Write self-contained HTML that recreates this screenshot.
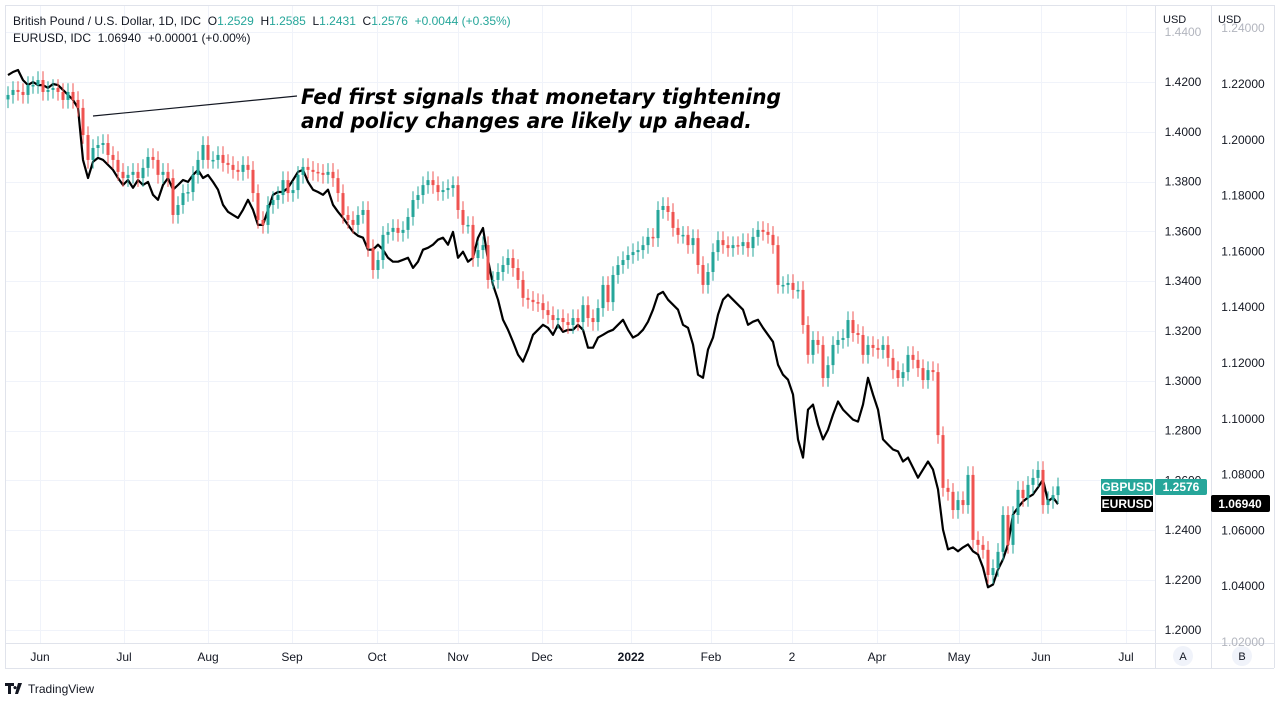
<!DOCTYPE html>
<html><head><meta charset="utf-8">
<style>
html,body{margin:0;padding:0;background:#fff;}
body{width:1277px;height:703px;overflow:hidden;font-family:"Liberation Sans","DejaVu Sans",sans-serif;}
svg text{font-family:"Liberation Sans","DejaVu Sans",sans-serif;}
.pre{white-space:pre;}
</style></head>
<body>
<svg id="chart" width="1277" height="703" xmlns="http://www.w3.org/2000/svg">
  <rect x="0" y="0" width="1277" height="703" fill="#ffffff"/>
  <g id="grid"></g>
  <g id="eurLine"></g>
  <g id="candles"></g>
  <g id="frame">
    <rect x="0" y="643" width="1277" height="60" fill="#fff"/>
    <rect x="1155" y="0" width="122" height="703" fill="#fff"/>
    <line x1="5" y1="5.5" x2="1274" y2="5.5" stroke="#e0e3eb"/>
    <line x1="5.5" y1="5" x2="5.5" y2="668" stroke="#e0e3eb"/>
    <line x1="1155.5" y1="5" x2="1155.5" y2="668" stroke="#e0e3eb"/>
    <line x1="1211.5" y1="5" x2="1211.5" y2="668" stroke="#e0e3eb"/>
    <line x1="1274.5" y1="5" x2="1274.5" y2="668" stroke="#e0e3eb"/>
    <line x1="5" y1="643.5" x2="1274" y2="643.5" stroke="#e0e3eb"/>
    <line x1="5" y1="668.5" x2="1274" y2="668.5" stroke="#e0e3eb"/>
  </g>
  <g id="axisA"></g>
  <g id="axisB"></g>
  <g id="xaxis"></g>
  <text x="1163" y="23" font-size="11" fill="#131722">USD</text>
  <text x="1218" y="23" font-size="11" fill="#131722">USD</text>
  <g>
    <text class="pre" x="13" y="25" font-size="12" fill="#131722">British Pound / U.S. Dollar, 1D, IDC  O<tspan fill="#26a69a">1.2529</tspan>  H<tspan fill="#26a69a">1.2585</tspan>  L<tspan fill="#26a69a">1.2431</tspan>  C<tspan fill="#26a69a">1.2576</tspan>  <tspan fill="#26a69a">+0.0044 (+0.35%)</tspan></text>
    <text class="pre" x="13" y="42" font-size="12" fill="#131722">EURUSD, IDC  1.06940  +0.00001 (+0.00%)</text>
  </g>
  <g>
    <line x1="93" y1="116" x2="297" y2="96" stroke="#131722" stroke-width="1.2"/>
    <text x="301" y="104" font-size="21" font-weight="bold" font-style="italic" fill="#000" textLength="480" lengthAdjust="spacingAndGlyphs" style='font-family:"DejaVu Sans",sans-serif'>Fed first signals that monetary tightening</text>
    <text x="301" y="128" font-size="21" font-weight="bold" font-style="italic" fill="#000" textLength="451" lengthAdjust="spacingAndGlyphs" style='font-family:"DejaVu Sans",sans-serif'>and policy changes are likely up ahead.</text>
  </g>
  <g>
    <rect x="1101" y="479" width="52" height="16" fill="#26a69a"/>
    <text x="1127" y="491" font-size="12" font-weight="bold" fill="#fff" text-anchor="middle">GBPUSD</text>
    <rect x="1155" y="479" width="52" height="16" rx="2" fill="#26a69a"/>
    <text x="1181" y="491" font-size="12" font-weight="bold" fill="#fff" text-anchor="middle">1.2576</text>
    <rect x="1101" y="496" width="52" height="16" fill="#000"/>
    <text x="1127" y="508" font-size="12" font-weight="bold" fill="#fff" text-anchor="middle">EURUSD</text>
    <rect x="1211" y="495" width="59" height="17" rx="2" fill="#000"/>
    <text x="1240" y="508" font-size="12" font-weight="bold" fill="#fff" text-anchor="middle">1.06940</text>
  </g>
  <g>
    <circle cx="1183" cy="656" r="10" fill="#f0f3fa"/>
    <text x="1183" y="660" font-size="11" fill="#131722" text-anchor="middle">A</text>
  </g>
  <g>
    <circle cx="1242" cy="656" r="10" fill="#f0f3fa"/>
    <text x="1242" y="660" font-size="11" fill="#131722" text-anchor="middle">B</text>
  </g>
  <g>
    <path d="M5 683h9v3h-3v8h-3v-8h-3z M15 686 a1.6 1.6 0 1 0 0.01 0z M18 683h4l-4 11h-3z" fill="#131722"/>
    <text x="28" y="693" font-size="12" fill="#131722">TradingView</text>
  </g>
</svg>
<script>
const gbpClose = [1.4148,1.4168,1.4160,1.4148,1.4188,1.4188,1.4208,1.4160,1.4168,1.4176,1.4160,1.4128,1.4160,1.4128,1.4096,1.3987,1.3887,1.3935,1.3947,1.3955,1.3907,1.3887,1.3839,1.3814,1.3827,1.3839,1.3814,1.3855,1.3899,1.3887,1.3827,1.3839,1.3814,1.3666,1.3706,1.3754,1.3758,1.3827,1.3887,1.3947,1.3887,1.3887,1.3907,1.3875,1.3867,1.3847,1.3839,1.3867,1.3847,1.3754,1.3646,1.3626,1.3706,1.3726,1.3746,1.3806,1.3754,1.3766,1.3827,1.3859,1.3847,1.3839,1.3835,1.3827,1.3839,1.3814,1.3754,1.3666,1.3646,1.3626,1.3666,1.3686,1.3533,1.3445,1.3485,1.3586,1.3598,1.3614,1.3594,1.3606,1.3658,1.3726,1.3746,1.3786,1.3806,1.3786,1.3758,1.3766,1.3774,1.3786,1.3686,1.3626,1.3626,1.3493,1.3525,1.3545,1.3405,1.3405,1.3437,1.3465,1.3493,1.3453,1.3405,1.3333,1.3325,1.3316,1.3312,1.3284,1.3264,1.3244,1.3252,1.3236,1.3224,1.3252,1.3236,1.3304,1.3252,1.3236,1.3292,1.3385,1.3316,1.3425,1.3465,1.3485,1.3505,1.3517,1.3525,1.3545,1.3578,1.3573,1.3686,1.3702,1.3678,1.3614,1.3586,1.3586,1.3545,1.3573,1.3465,1.3385,1.3437,1.3517,1.3565,1.3545,1.3533,1.3545,1.3541,1.3557,1.3533,1.3578,1.3606,1.3598,1.3586,1.3545,1.3385,1.3385,1.3393,1.3365,1.3365,1.3224,1.3104,1.3164,1.3144,1.3011,1.3063,1.3144,1.3164,1.3172,1.3244,1.3192,1.3184,1.3104,1.3144,1.3132,1.3124,1.3144,1.3092,1.3043,1.3011,1.3035,1.3104,1.3084,1.3051,1.3003,1.3043,1.3035,1.2782,1.2570,1.2554,1.2481,1.2521,1.2501,1.2622,1.2361,1.2341,1.2321,1.2220,1.2248,1.2313,1.2461,1.2341,1.2461,1.2562,1.2529,1.2582,1.2610,1.2642,1.2501,1.2521,1.2541,1.2576];
const eurClose = [1.2232,1.2243,1.2250,1.2214,1.2196,1.2207,1.2196,1.2196,1.2186,1.2200,1.2196,1.2179,1.2161,1.2143,1.2114,1.1928,1.1863,1.1921,1.1935,1.1928,1.1910,1.1892,1.1863,1.1838,1.1856,1.1828,1.1856,1.1838,1.1849,1.1803,1.1785,1.1838,1.1863,1.1821,1.1838,1.1856,1.1849,1.1874,1.1892,1.1863,1.1874,1.1849,1.1821,1.1767,1.1742,1.1731,1.1720,1.1749,1.1785,1.1749,1.1695,1.1695,1.1749,1.1803,1.1813,1.1813,1.1828,1.1856,1.1885,1.1892,1.1849,1.1821,1.1813,1.1803,1.1821,1.1767,1.1742,1.1720,1.1695,1.1670,1.1656,1.1649,1.1606,1.1606,1.1624,1.1606,1.1577,1.1563,1.1563,1.1570,1.1577,1.1541,1.1563,1.1606,1.1613,1.1624,1.1642,1.1649,1.1624,1.1670,1.1577,1.1599,1.1563,1.1577,1.1649,1.1684,1.1570,1.1480,1.1427,1.1355,1.1319,1.1276,1.1230,1.1205,1.1248,1.1301,1.1319,1.1337,1.1326,1.1301,1.1337,1.1312,1.1319,1.1319,1.1337,1.1319,1.1255,1.1255,1.1291,1.1301,1.1312,1.1319,1.1337,1.1355,1.1319,1.1291,1.1301,1.1319,1.1348,1.1391,1.1445,1.1455,1.1427,1.1409,1.1391,1.1337,1.1326,1.1266,1.1158,1.1147,1.1248,1.1291,1.1373,1.1427,1.1445,1.1427,1.1409,1.1391,1.1337,1.1348,1.1355,1.1326,1.1301,1.1276,1.1194,1.1158,1.1140,1.1087,1.0926,1.0861,1.1033,1.1051,1.0979,1.0926,1.0961,1.1015,1.1062,1.1033,1.1015,1.0997,1.0990,1.1051,1.1147,1.1087,1.1033,1.0926,1.0908,1.0890,1.0883,1.0847,1.0861,1.0825,1.0789,1.0818,1.0847,1.0818,1.0747,1.0603,1.0532,1.0539,1.0525,1.0539,1.0550,1.0525,1.0514,1.0467,1.0396,1.0406,1.0460,1.0496,1.0550,1.0657,1.0682,1.0704,1.0718,1.0729,1.0754,1.0782,1.0704,1.0718,1.0694];
const gbpFirstOpen = 1.4130;
const gbpTicks = ["1.2000","1.2200","1.2400","1.2600","1.2800","1.3000","1.3200","1.3400","1.3600","1.3800","1.4000","1.4200","1.4400"];
const eurTicks = ["1.02000","1.04000","1.06000","1.08000","1.10000","1.12000","1.14000","1.16000","1.18000","1.20000","1.22000","1.24000"];
const monthLabels = ["Jun","Jul","Aug","Sep","Oct","Nov","Dec","2022","Feb","2","Apr","May","Jun","Jul"];
const monthDayIndex = [6.4,23.2,40,56.8,73.8,90,106.8,124.6,140.6,156.8,173.8,190.2,206.6,223.6];

const NS = "http://www.w3.org/2000/svg";
function mk(tag, attrs, parent){ const e=document.createElementNS(NS,tag); for(const k in attrs) e.setAttribute(k,attrs[k]); parent.appendChild(e); return e; }
const N = gbpClose.length;
function xOf(i){ return 8 + i*(1050/(N-1)); }
function yA(p){ return 82 + (1.42 - p)/0.02*49.8; }
function yB(p){ return 84 + (1.22 - p)/0.02*55.8; }

const grid=document.getElementById('grid');
const axisA=document.getElementById('axisA');
const axisB=document.getElementById('axisB');
const xaxis=document.getElementById('xaxis');

gbpTicks.forEach(t=>{
  const y=yA(parseFloat(t));
  const gl=mk('line',{x1:6,x2:1155,y1:Math.round(y)+0.5,y2:Math.round(y)+0.5,stroke:'#f0f3fa'},grid);
  
  
  if(y<640){
    const tx=mk('text',{x:1183,y:y+4,'font-size':12,fill:y<40?'#b2b5be':'#131722','text-anchor':'middle'},axisA);
    tx.textContent=t;
    
    
  }
});
eurTicks.forEach(t=>{
  const y=yB(parseFloat(t));
  if(y>15 && y<645){
    const tx=mk('text',{x:1243,y:y+4,'font-size':12,fill:(y<40||y>636)?'#b2b5be':'#131722','text-anchor':'middle'},axisB);
    tx.textContent=t;
    
    
  }
});
monthLabels.forEach((m,k)=>{
  const x=xOf(monthDayIndex[k]);
  if(x<1155){
    const gl=mk('line',{x1:Math.round(x)+0.5,x2:Math.round(x)+0.5,y1:6,y2:643,stroke:'#f0f3fa'},grid);
    
    
  }
  const tx=mk('text',{x:x,y:661,'font-size':12,fill:'#131722','text-anchor':'middle','font-weight':m==='2022'?'bold':'normal'},xaxis);
  tx.textContent=m;
  
  
});

let d='';
eurClose.forEach((v,i)=>{ d += (i?'L':'M') + xOf(i).toFixed(1)+' '+yB(v).toFixed(1); });
const ep=mk('path',{d:d,fill:'none',stroke:'#000','stroke-width':2.2,'stroke-linejoin':'round'},document.getElementById('eurLine'));



const cg=document.getElementById('candles');
gbpClose.forEach((c,i)=>{
  const o = i===0 ? gbpFirstOpen : gbpClose[i-1];
  const up = c>=o;
  const col = up ? '#26a69a' : '#ef5350';
  const x=xOf(i);
  const hi=Math.max(o,c)+0.0035, lo=Math.min(o,c)-0.0035;
  const w=mk('line',{x1:x,x2:x,y1:yA(hi),y2:yA(lo),stroke:col,'stroke-width':1},cg);
  
  
  const yt=yA(Math.max(o,c)), yb=yA(Math.min(o,c));
  const b=mk('rect',{x:x-1.5,y:yt,width:3,height:Math.max(1.5,yb-yt),fill:col},cg);
  
  
});
</script>
</body></html>
